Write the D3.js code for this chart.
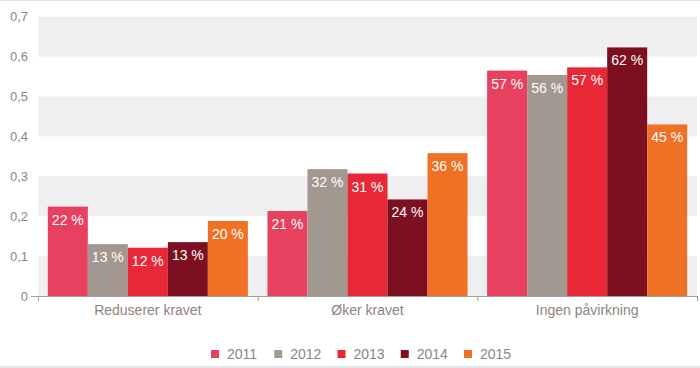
<!DOCTYPE html>
<html><head><meta charset="utf-8">
<script src="https://cdn.jsdelivr.net/npm/d3@7"></script>
<style>
body{margin:0;background:#fff;}
svg{display:block;font-family:"Liberation Sans",Arial,Helvetica,sans-serif;}
</style></head>
<body><svg id="c" width="700" height="368"></svg>
<script>
const categories = ["Reduserer kravet", "Øker kravet", "Ingen påvirkning"];
const years = ["2011", "2012", "2013", "2014", "2015"];
const v2011 = [0.224, 0.213, 0.565];
const v2012 = [0.130, 0.318, 0.554];
const v2013 = [0.121, 0.307, 0.573];
const v2014 = [0.135, 0.242, 0.623];
const v2015 = [0.188, 0.358, 0.430];
const l2011 = ["22 %", "21 %", "57 %"];
const l2012 = ["13 %", "32 %", "56 %"];
const l2013 = ["12 %", "31 %", "57 %"];
const l2014 = ["13 %", "24 %", "62 %"];
const l2015 = ["20 %", "36 %", "45 %"];
const yTicks = [0, 0.1, 0.2, 0.3, 0.4, 0.5, 0.6, 0.7];
const colors = ["#e8405f", "#a39890", "#e82836", "#7c1020", "#ef7125"];

(function () {
const seriesVals = [v2011, v2012, v2013, v2014, v2015];
const seriesLabels = [l2011, l2012, l2013, l2014, l2015];

const svg = d3.select("#c");
const mLeft = 38, mRight = 697, mTop = 16.7, mBottom = 296;
const textCol = "#8e847d";

// border lines
svg.append("line").attr("x1",0).attr("x2",700).attr("y1",0.5).attr("y2",0.5).attr("stroke","#e4e4e6");
svg.append("line").attr("x1",0).attr("x2",700).attr("y1",367).attr("y2",367).attr("stroke","#e4e4e6").attr("stroke-width",2);

const y = d3.scaleLinear().domain([0, 0.7]).range([mBottom, mTop]);
const x0 = d3.scaleBand().domain(categories).range([mLeft, mRight]).paddingInner(0).paddingOuter(0);
const x1 = d3.scaleBand().domain(years).range([0, x0.bandwidth()]).paddingInner(0).paddingOuter(0.245);

// grid bands
const bands = yTicks.slice(0, -1).filter((d, i) => i % 2 === 0);
svg.append("g").selectAll("rect").data(bands).join("rect")
  .attr("x", mLeft).attr("width", mRight - mLeft)
  .attr("y", d => y(d + 0.1)).attr("height", d => y(d) - y(d + 0.1))
  .attr("fill", "#efeff1");

// y labels
svg.append("g").selectAll("text").data(yTicks).join("text")
  .attr("x", 28).attr("y", d => y(d)).attr("dy", "0.35em")
  .attr("text-anchor", "end").attr("fill", textCol).attr("font-size", 13)
  .text(d => d === 0 ? "0" : d3.format(".1f")(d).replace(".", ","));

// bars
const g = svg.append("g");
categories.forEach((cat, ci) => {
  years.forEach((yr, si) => {
    const val = seriesVals[si][ci];
    const bx = x0(cat) + x1(yr);
    g.append("rect").attr("x", bx).attr("width", x1.bandwidth())
      .attr("y", y(val)).attr("height", y(0) - y(val))
      .attr("fill", colors[si]);
    g.append("text").attr("x", bx + x1.bandwidth() / 2).attr("y", y(val) + 18)
      .attr("text-anchor", "middle").attr("fill", "#fff").attr("font-size", 14)
      .text(seriesLabels[si][ci]);
  });
});

// x axis
const ax = svg.append("g").attr("stroke", "#a89e97");
ax.append("line").attr("x1", 31).attr("x2", mRight).attr("y1", mBottom + 0.5).attr("y2", mBottom + 0.5);
const tickXs = categories.map(c => x0(c)).concat([x0(categories[categories.length - 1]) + x0.bandwidth()]);
ax.selectAll("line.t").data(tickXs).join("line").attr("class", "t")
  .attr("x1", d => d + 0.5).attr("x2", d => d + 0.5).attr("y1", mBottom).attr("y2", mBottom + 5);

svg.append("g").selectAll("text").data(categories).join("text")
  .attr("x", d => x0(d) + x0.bandwidth() / 2).attr("y", 315)
  .attr("text-anchor", "middle").attr("fill", textCol).attr("font-size", 14)
  .text(d => d);

// legend
const lx = d3.scalePoint().domain(years).range([211, 464]);
const lg = svg.append("g");
years.forEach((yr, i) => {
  lg.append("rect").attr("x", lx(yr)).attr("y", 350).attr("width", 8).attr("height", 8).attr("fill", colors[i]);
  lg.append("text").attr("x", lx(yr) + 16).attr("y", 359).attr("fill", textCol).attr("font-size", 14).text(yr);
});
})();
</script></body></html>
